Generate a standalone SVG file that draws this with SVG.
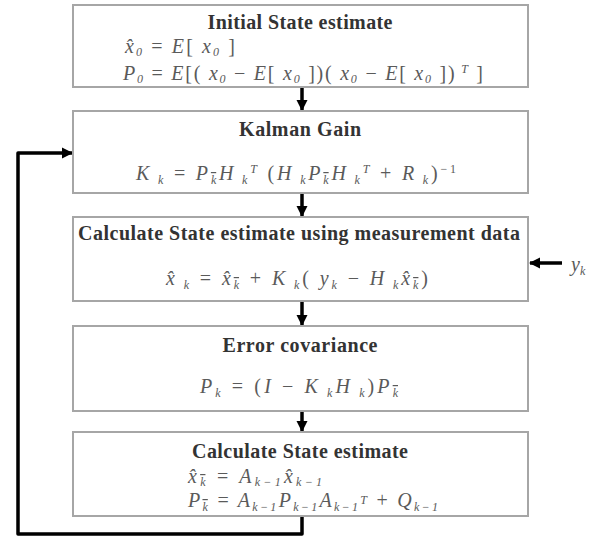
<svg xmlns="http://www.w3.org/2000/svg" width="601" height="538" viewBox="0 0 601 538">
<style>
.box{fill:#fff;stroke:#a6a6a6;stroke-width:2}
.t{font-family:"Liberation Serif",serif;font-weight:bold;font-size:20px;fill:#333;text-anchor:middle}
.f{font-family:"Liberation Serif",serif;font-style:italic;font-size:20px;fill:#5a5a5a}
.c{text-anchor:middle}
.s{font-size:12px}
.b{font-size:12px;text-decoration:overline}
.u{font-style:normal}
.ln{fill:none;stroke:#000;stroke-width:3.5;stroke-linejoin:round}
</style>
<defs>
<marker id="ah" markerUnits="userSpaceOnUse" markerWidth="12" markerHeight="12" refX="10" refY="6" orient="auto">
<path d="M0,0.5 L11,6 L0,11.5 Z" fill="#000"/>
</marker>
</defs>
<rect width="601" height="538" fill="#fff"/>
<g id="connectors">
<line class="ln" x1="302" y1="88" x2="302" y2="110" marker-end="url(#ah)"/>
<line class="ln" x1="302" y1="194" x2="302" y2="216" marker-end="url(#ah)"/>
<line class="ln" x1="302" y1="302" x2="302" y2="325" marker-end="url(#ah)"/>
<line class="ln" x1="302" y1="412" x2="302" y2="431" marker-end="url(#ah)"/>
<polyline class="ln" points="302,517 302,534 18,534 18,153 72,153" marker-end="url(#ah)"/>
<line class="ln" x1="562" y1="263" x2="530" y2="263" marker-end="url(#ah)"/>
<text class="f" x="571" y="271">y<tspan class="s" dy="4">k</tspan></text>
</g>
<g id="n1">
<rect class="box" x="73" y="5" width="455" height="82"/>
<text class="t" x="300" y="29" textLength="185">Initial State estimate</text>
<text class="f" x="125" y="53" textLength="110">x̂<tspan class="s" dy="3">0</tspan><tspan dy="-3"> <tspan class="u">=</tspan> E<tspan class="u">[</tspan> x</tspan><tspan class="s" dy="3">0</tspan><tspan dy="-3" class="u"> ]</tspan></text>
<text class="f" x="123" y="80" textLength="360">P<tspan class="s" dy="3">0</tspan><tspan dy="-3"> <tspan class="u">=</tspan> E<tspan class="u">[(</tspan> x</tspan><tspan class="s" dy="3">0</tspan><tspan dy="-3"> <tspan class="u">−</tspan> E<tspan class="u">[</tspan> x</tspan><tspan class="s" dy="3">0</tspan><tspan dy="-3" class="u"> ])( </tspan><tspan>x</tspan><tspan class="s" dy="3">0</tspan><tspan dy="-3"> <tspan class="u">−</tspan> E<tspan class="u">[</tspan> x</tspan><tspan class="s" dy="3">0</tspan><tspan dy="-3" class="u"> ])</tspan><tspan class="s" dy="-7"> T</tspan><tspan dy="7" class="u"> ]</tspan></text>
</g>
<g id="n2">
<rect class="box" x="73" y="111" width="455" height="82"/>
<text class="t" x="300" y="136" textLength="122">Kalman Gain</text>
<text class="f c" x="296" y="180" textLength="320">K<tspan class="s" dy="4"> k</tspan><tspan dy="-4"> <tspan class="u">=</tspan> P</tspan><tspan class="b" dy="4">k</tspan><tspan dy="-4">H</tspan><tspan class="s" dy="4"> k</tspan><tspan class="s" dy="-11">T</tspan><tspan dy="7" class="u"> (</tspan><tspan>H</tspan><tspan class="s" dy="4"> k</tspan><tspan dy="-4">P</tspan><tspan class="b" dy="4">k</tspan><tspan dy="-4">H</tspan><tspan class="s" dy="4"> k</tspan><tspan class="s" dy="-11">T</tspan><tspan dy="7"> <tspan class="u">+</tspan> R</tspan><tspan class="s" dy="4"> k</tspan><tspan dy="-4" class="u">)</tspan><tspan class="s u" dy="-7">−1</tspan></text>
</g>
<g id="n3">
<rect class="box" x="73" y="217" width="455" height="84"/>
<text class="t" x="299" y="240" textLength="442">Calculate State estimate using measurement data</text>
<text class="f c" x="297" y="285" textLength="262">x̂<tspan class="s" dy="4"> k</tspan><tspan dy="-4"> <tspan class="u">=</tspan> x̂</tspan><tspan class="b" dy="4">k</tspan><tspan dy="-4"> <tspan class="u">+</tspan> K</tspan><tspan class="s" dy="4"> k</tspan><tspan dy="-4" class="u">( </tspan><tspan>y</tspan><tspan class="s" dy="4">k</tspan><tspan dy="-4"> <tspan class="u">−</tspan> H</tspan><tspan class="s" dy="4"> k</tspan><tspan dy="-4">x̂</tspan><tspan class="b" dy="4">k</tspan><tspan dy="-4" class="u">)</tspan></text>
</g>
<g id="n4">
<rect class="box" x="73" y="326" width="455" height="85"/>
<text class="t" x="300" y="352" textLength="155">Error covariance</text>
<text class="f c" x="299" y="393" textLength="198">P<tspan class="s" dy="4">k</tspan><tspan dy="-4"> <tspan class="u">= (</tspan>I <tspan class="u">−</tspan> K</tspan><tspan class="s" dy="4"> k</tspan><tspan dy="-4">H</tspan><tspan class="s" dy="4"> k</tspan><tspan dy="-4" class="u">)</tspan><tspan>P</tspan><tspan class="b" dy="4">k</tspan></text>
</g>
<g id="n5">
<rect class="box" x="73" y="432" width="455" height="84"/>
<text class="t" x="300" y="458" textLength="216">Calculate State estimate</text>
<text class="f" x="188" y="483" textLength="134">x̂<tspan class="b" dy="3">k</tspan><tspan dy="-3"> <tspan class="u">=</tspan> A</tspan><tspan class="s" dy="3">k−1</tspan><tspan dy="-3">x̂</tspan><tspan class="s" dy="3">k−1</tspan></text>
<text class="f" x="188" y="507" textLength="250">P<tspan class="b" dy="4">k</tspan><tspan dy="-4"> <tspan class="u">=</tspan> A</tspan><tspan class="s" dy="4">k−1</tspan><tspan dy="-4">P</tspan><tspan class="s" dy="4">k−1</tspan><tspan dy="-4">A</tspan><tspan class="s" dy="4">k−1</tspan><tspan class="s" dy="-7">T</tspan><tspan dy="3"> <tspan class="u">+</tspan> Q</tspan><tspan class="s" dy="4">k−1</tspan></text>
</g>
</svg>
